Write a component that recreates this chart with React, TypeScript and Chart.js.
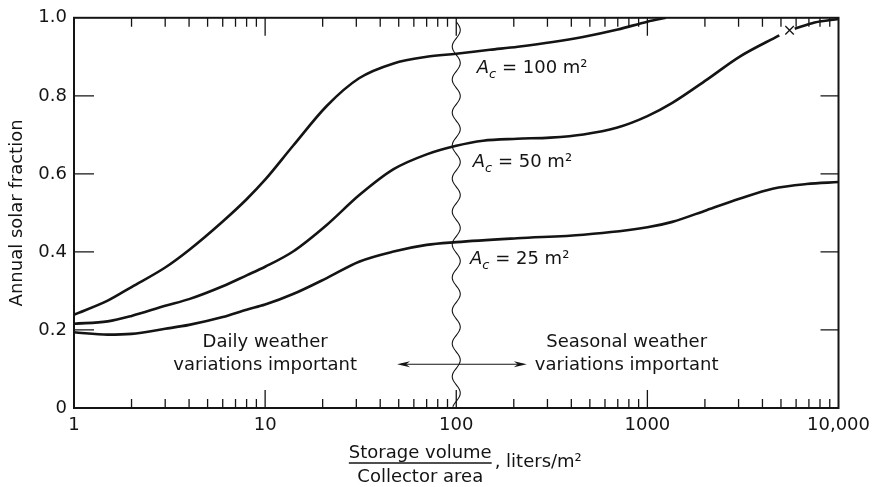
import React, { useEffect, useRef } from 'react';
import { Chart, registerables } from 'chart.js';

Chart.register(...registerables);

const FONT = '"DejaVu Sans", sans-serif';
const INK = '#141414';

// Storage volume / collector area (liters/m2) and annual solar fraction
const S100_X = [1, 1.5, 2, 3, 4, 6, 8, 10, 14, 21, 31, 47, 70, 100, 150, 210, 320, 460, 700, 1000, 1250];
const S100_Y = [0.239, 0.275, 0.31, 0.36, 0.405, 0.478, 0.535, 0.585, 0.672, 0.774, 0.845, 0.883, 0.9, 0.908, 0.918, 0.926, 0.938, 0.951, 0.97, 0.99, 1.0];

const S50_X = [1, 1.5, 2, 3, 4, 6, 8, 10, 14, 21, 31, 47, 70, 100, 138, 208, 310, 463, 690, 1000, 1350, 2040, 3030, 4900, 5545, 5900, 7500, 10000];
const S50_Y = [0.216, 0.222, 0.236, 0.262, 0.279, 0.312, 0.34, 0.362, 0.401, 0.469, 0.545, 0.612, 0.65, 0.672, 0.685, 0.69, 0.693, 0.701, 0.718, 0.748, 0.782, 0.841, 0.9, 0.955, null, 0.972, 0.988, 0.997];

const S25_X = [1, 1.5, 2, 3, 4, 6, 8, 10, 14, 21, 31, 47, 70, 100, 208, 463, 1000, 1350, 2040, 3030, 4520, 6800, 10000];
const S25_Y = [0.194, 0.188, 0.19, 0.203, 0.213, 0.233, 0.252, 0.265, 0.292, 0.333, 0.375, 0.401, 0.418, 0.425, 0.435, 0.444, 0.463, 0.477, 0.507, 0.536, 0.562, 0.574, 0.579];

// "x" mark on the 50 m2 curve
const MARK_X = [5545];
const MARK_Y = [0.968];

const X_TICKS = [
  1, 2, 3, 4, 5, 6, 7, 8, 9,
  10, 20, 30, 40, 50, 60, 70, 80, 90,
  100, 200, 300, 400, 500, 600, 700, 800, 900,
  1000, 2000, 3000, 4000, 5000, 6000, 7000, 8000, 9000,
  10000,
];
const X_LABEL_VALUES = [1, 10, 100, 1000, 10000];
const X_LABEL_TEXT = ['1', '10', '100', '1000', '10,000'];
const Y_TICKS = [0, 0.2, 0.4, 0.6, 0.8, 1.0];
const Y_LABEL_TEXT = ['0', '0.2', '0.4', '0.6', '0.8', '1.0'];

const AC_NAMES = ['100', '50', '25'];
const AC_POS = [
  { x: 128, y: 0.871 },
  { x: 122, y: 0.629 },
  { x: 118, y: 0.381 },
];
const ZONE_TEXT = [
  { lines: ['Daily weather', 'variations important'], x: 10 },
  { lines: ['Seasonal weather', 'variations important'], x: 779 },
];
const ZONE_Y = [0.168, 0.109];
const ARROW = { x0: 49, x1: 234, y: 0.112 };
const DIVIDE_X = 100;

const toPts = (xs: number[], ys: (number | null)[]) => xs.map((x, i) => ({ x, y: ys[i] }));

const decor = {
  id: 'decor',
  afterDraw(chart: any) {
    const { ctx, chartArea, scales } = chart;
    const { left, right, top, bottom } = chartArea;
    const xs = scales.x;
    const ys = scales.y;
    ctx.save();
    ctx.strokeStyle = INK;
    ctx.fillStyle = INK;

    // inward ticks
    ctx.lineWidth = 1.3;
    X_TICKS.forEach((v) => {
      const px = xs.getPixelForValue(v);
      if (px <= left + 1 || px >= right - 1) return;
      const len = X_LABEL_VALUES.includes(v) ? 18 : 9;
      ctx.beginPath();
      ctx.moveTo(px, bottom);
      ctx.lineTo(px, bottom - len);
      ctx.moveTo(px, top);
      ctx.lineTo(px, top + len);
      ctx.stroke();
    });
    Y_TICKS.forEach((v) => {
      const py = ys.getPixelForValue(v);
      if (py <= top + 1 || py >= bottom - 1) return;
      ctx.beginPath();
      ctx.moveTo(left, py);
      ctx.lineTo(left + 20, py);
      ctx.moveTo(right, py);
      ctx.lineTo(right - 18, py);
      ctx.stroke();
    });

    // wavy divider
    const cx = xs.getPixelForValue(DIVIDE_X);
    ctx.lineWidth = 1.1;
    ctx.beginPath();
    for (let py = top + 4; py <= bottom - 1; py += 1) {
      const px = cx + 4 * Math.sin((2 * Math.PI * (py - top - 4)) / 33);
      if (py === top + 4) ctx.moveTo(px, py);
      else ctx.lineTo(px, py);
    }
    ctx.stroke();

    // double arrow
    const ax0 = xs.getPixelForValue(ARROW.x0);
    const ax1 = xs.getPixelForValue(ARROW.x1);
    const ay = ys.getPixelForValue(ARROW.y);
    ctx.lineWidth = 1.1;
    ctx.beginPath();
    ctx.moveTo(ax0 + 4, ay);
    ctx.lineTo(ax1 - 4, ay);
    ctx.stroke();
    const head = (tip: number, dir: number) => {
      ctx.beginPath();
      ctx.moveTo(tip, ay);
      ctx.lineTo(tip + dir * 13, ay - 3);
      ctx.lineTo(tip + dir * 9, ay);
      ctx.lineTo(tip + dir * 13, ay + 3);
      ctx.closePath();
      ctx.fill();
    };
    head(ax0, 1);
    head(ax1, -1);

    // frame
    ctx.lineWidth = 2;
    ctx.strokeRect(left, top, right - left, bottom - top);

    // zone texts
    ctx.textBaseline = 'middle';
    ctx.textAlign = 'center';
    ctx.font = `18px ${FONT}`;
    ZONE_TEXT.forEach((z) => {
      const px = xs.getPixelForValue(z.x);
      z.lines.forEach((ln, i) => {
        ctx.fillText(ln, px, ys.getPixelForValue(ZONE_Y[i]));
      });
    });

    // A_c labels
    ctx.textAlign = 'left';
    AC_NAMES.forEach((n, i) => {
      let px = xs.getPixelForValue(AC_POS[i].x);
      const py = ys.getPixelForValue(AC_POS[i].y);
      ctx.font = `italic 18px ${FONT}`;
      ctx.fillText('A', px, py);
      px += ctx.measureText('A').width;
      ctx.font = `italic 13px ${FONT}`;
      ctx.fillText('c', px, py + 6);
      px += ctx.measureText('c').width;
      ctx.font = `18px ${FONT}`;
      ctx.fillText(` = ${n} m²`, px, py);
    });

    // x-axis title (fraction)
    ctx.font = `18px ${FONT}`;
    const fx = (left + right) / 2 - 36;
    const topTxt = 'Storage volume';
    const botTxt = 'Collector area';
    const w = ctx.measureText(topTxt).width;
    ctx.textAlign = 'center';
    ctx.fillText(topTxt, fx, bottom + 45);
    ctx.fillText(botTxt, fx, bottom + 69);
    ctx.lineWidth = 1.3;
    ctx.beginPath();
    ctx.moveTo(fx - w / 2, bottom + 55);
    ctx.lineTo(fx + w / 2, bottom + 55);
    ctx.stroke();
    ctx.textAlign = 'left';
    ctx.fillText(', liters/m²', fx + w / 2 + 3, bottom + 54);

    ctx.restore();
  },
};

export default function App() {
  const ref = useRef<HTMLCanvasElement | null>(null);

  useEffect(() => {
    document.body.style.margin = '0';
    const canvas = ref.current;
    if (!canvas) return;
    const line = (data: any) => ({
      data,
      borderColor: INK,
      borderWidth: 2.6,
      pointRadius: 0,
      cubicInterpolationMode: 'monotone' as const,
      fill: false,
      spanGaps: false,
    });
    const chart = new Chart(canvas, {
      type: 'line',
      data: {
        datasets: [
          { label: 'Ac = 100 m²', ...line(toPts(S100_X, S100_Y)) },
          { label: 'Ac = 50 m²', ...line(toPts(S50_X, S50_Y)) },
          { label: 'Ac = 25 m²', ...line(toPts(S25_X, S25_Y)) },
          {
            type: 'scatter',
            label: 'mark',
            data: toPts(MARK_X, MARK_Y),
            pointStyle: 'crossRot',
            pointRadius: 6,
            borderColor: INK,
            borderWidth: 1.3,
            showLine: false,
          } as any,
        ],
      },
      options: {
        animation: false,
        responsive: false,
        layout: { padding: { top: 14, right: 38, left: 0, bottom: 0 } },
        plugins: { legend: { display: false }, tooltip: { enabled: false } },
        scales: {
          x: {
            type: 'logarithmic',
            min: 1,
            max: 10000,
            afterBuildTicks: (s: any) => {
              s.ticks = X_LABEL_VALUES.map((v) => ({ value: v, major: true }));
            },
            afterFit: (s: any) => {
              s.height = 79;
            },
            ticks: {
              autoSkip: false,
              maxRotation: 0,
              minRotation: 0,
              padding: 7,
              color: INK,
              font: { family: FONT, size: 18 },
              callback: (v: any) => {
                const i = X_LABEL_VALUES.indexOf(Number(v));
                return i >= 0 ? X_LABEL_TEXT[i] : '';
              },
            },
            grid: { display: false, drawTicks: false },
            border: { display: false },
          },
          y: {
            min: 0,
            max: 1,
            afterBuildTicks: (s: any) => {
              s.ticks = Y_TICKS.map((v) => ({ value: v }));
            },
            afterFit: (s: any) => {
              s.width = 74;
            },
            ticks: {
              padding: 7,
              color: INK,
              font: { family: FONT, size: 18 },
              callback: (v: any) => {
                const i = Y_TICKS.findIndex((t) => Math.abs(t - Number(v)) < 1e-9);
                return i >= 0 ? Y_LABEL_TEXT[i] : '';
              },
            },
            grid: { display: false, drawTicks: false },
            border: { display: false },
            title: {
              display: true,
              text: 'Annual solar fraction',
              color: INK,
              font: { family: FONT, size: 18 },
              padding: { top: 7, bottom: 0 },
            },
          },
        },
      } as any,
      plugins: [decor],
    });
    return () => chart.destroy();
  }, []);

  return (
    <div style={{ width: 877, height: 487, background: '#fff' }}>
      <canvas ref={ref} width={877} height={487} />
    </div>
  );
}
